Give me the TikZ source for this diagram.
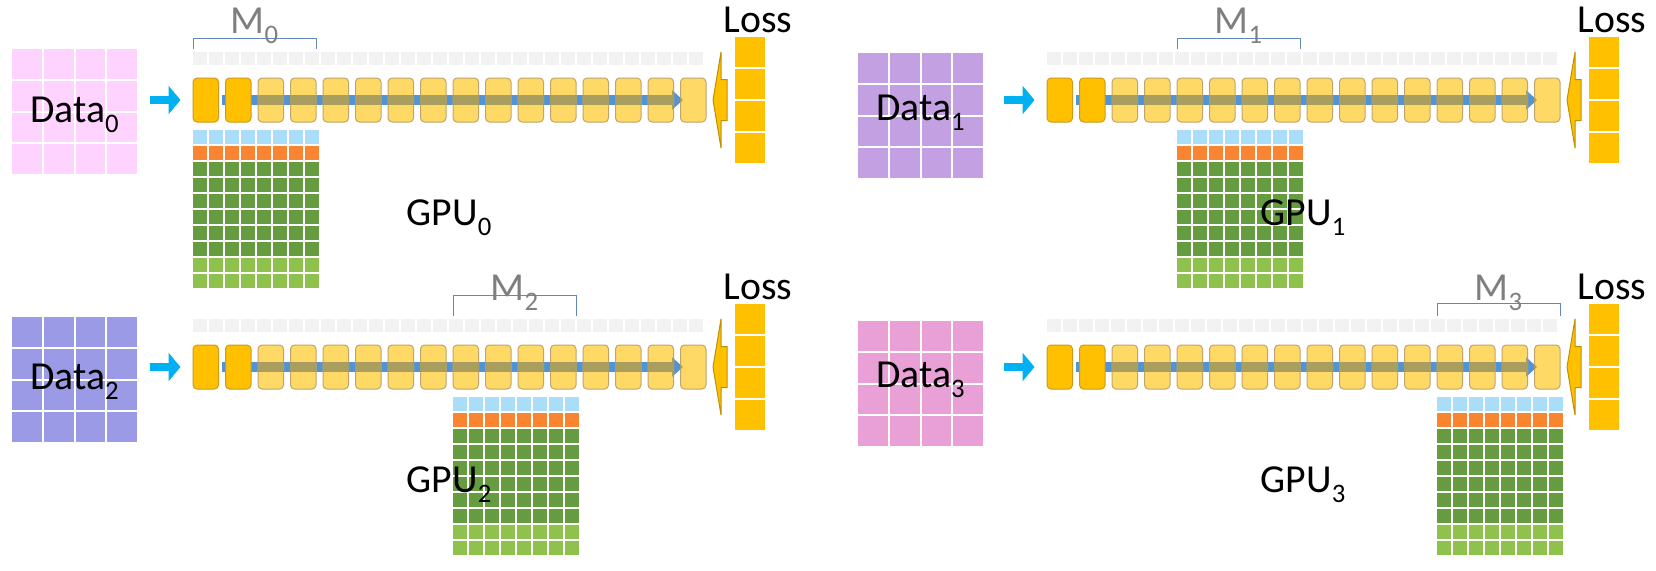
\documentclass[tikz,border=0pt]{standalone}
\usepackage{fontspec}
\setmainfont{Carlito}
\usetikzlibrary{arrows.meta, calc}
\definecolor{datapink}{RGB}{255,211,255}
\definecolor{datalilac}{RGB}{195,160,225}
\definecolor{dataperi}{RGB}{154,154,230}
\definecolor{datarose}{RGB}{232,160,214}
\definecolor{inblue}{RGB}{0,176,240}
\definecolor{flowblue}{RGB}{79,147,218}
\definecolor{flowolive}{RGB}{170,158,95}
\definecolor{stagegold}{RGB}{255,192,0}
\definecolor{stagegoldline}{RGB}{205,155,25}
\definecolor{stageyellow}{RGB}{255,217,102}
\definecolor{stageline}{RGB}{190,165,110}
\definecolor{slotgray}{RGB}{242,242,242}
\definecolor{bracketblue}{RGB}{100,135,185}
\definecolor{labelgray}{RGB}{127,127,127}
\definecolor{gpublue}{RGB}{170,221,250}
\definecolor{gpuorange}{RGB}{250,133,48}
\definecolor{gpudark}{RGB}{101,156,64}
\definecolor{gpulight}{RGB}{143,194,76}
\definecolor{lossgold}{RGB}{255,192,0}
\definecolor{lossline}{RGB}{191,143,0}
\newcommand\subidx[1]{\raisebox{-0.27em}{\fontsize{7.6}{9}\selectfont #1}}
\tikzset{
  lbl/.style={font=\fontsize{11.3}{13}\selectfont, inner sep=0pt},
  mlbl/.style={lbl, text=labelgray},
  stage/.style={rectangle, rounded corners=0.4mm, minimum width=2.55mm, minimum height=4.4mm,
                inner sep=0pt, line width=0.1mm, draw=stageline, fill=stageyellow},
  hotstage/.style={stage, draw=stagegoldline, fill=stagegold},
  inarrow/.style={-{Triangle[length=1.2mm, width=2.8mm]}, line width=0.8mm, inblue},
  flow/.style={-{Triangle[length=1.1mm, width=1.9mm]}, line width=1mm, flowblue},
  backarrow/.style={fill=lossgold, draw=lossline, line width=0.1mm, line join=miter},
  bracket/.style={bracketblue, line width=0.1mm},
}
\begin{document}
\begin{tikzpicture}[x=0.1mm, y=-0.1mm]
  \useasboundingbox[fill=white] (0,0) rectangle (1656,570);
  \def\P{32.5}
  \foreach \k/\ox/\oy/\gx/\gy/\dly/\bt/\dcol in {0/193/100/12/49/73/62/datapink,
      1/1047/100/858/53/67/62/datalilac, 2/193/367/12/317/72/72/dataperi,
      3/1047/367/858/321/66/64/datarose} {
    % Data grid
    \foreach \r in {0,...,3} \foreach \c in {0,...,3}
      \fill[\dcol] (\gx+\c*31.75, \gy+\r*31.75) rectangle ++(29.75,29.75);
    \node[lbl, anchor=base] (data\k) at (\gx+62.5, \gy+\dly) {Data\subidx{\k}};

    % Slots above the stages
    \foreach \i in {0,...,31}
      \fill[slotgray] (\ox+\i*16, \oy-48) rectangle ++(13.5,13);

    % Flow line under the stages
    \coordinate (f\k-a) at (\ox+29, \oy);
    \coordinate (f\k-b) at (\ox+490, \oy);
    \draw[flow] (f\k-a) -- (f\k-b);

    % Stages
    \foreach \i in {1,2}
      \node[hotstage] (s\k-\i) at (\ox+\i*\P-\P+12.75, \oy) {};
    \foreach \i in {3,...,16}
      \node[stage] (s\k-\i) at (\ox+\i*\P-\P+12.75, \oy) {};
    \begin{scope}
      \clip \foreach \i in {3,...,16} {(s\k-\i.south west) rectangle (s\k-\i.north east)};
      \draw[flow, flowolive] (f\k-a) -- (f\k-b);
    \end{scope}

    % Input arrow
    \draw[inarrow] ([xshift=-4.3mm]s\k-1.west) -- ([xshift=-1.2mm]s\k-1.west);

    % Model part M_k
    \pgfmathsetmacro\xa{\ox+4*\k*\P}
    \pgfmathsetmacro\xb{\ox+(4*\k+3)*\P+25.5}
    \draw[bracket] (\xa, \oy-51) -- (\xa, \oy-\bt) -- (\xb, \oy-\bt) -- (\xb, \oy-51);
    \node[mlbl, anchor=base] (m\k) at ({(\xa+\xb)/2}, \oy-67) {M\subidx{\k}};

    % GPU memory grid
    \foreach \r/\cl in {0/gpublue, 1/gpuorange, 2/gpudark, 3/gpudark, 4/gpudark,
        5/gpudark, 6/gpudark, 7/gpudark, 8/gpulight, 9/gpulight}
      \foreach \c in {0,...,7}
        \fill[\cl] (\xa+\c*16, \oy+30+\r*16) rectangle ++(14,14);
    \node[lbl, anchor=base west] (gpu\k) at (\ox+213, \oy+125) {GPU\subidx{\k}};

    % Loss
    \foreach \r in {0,...,3}
      \fill[lossgold] (\ox+542, \oy-63+\r*32) rectangle ++(30,30);
    \node[lbl, anchor=base west] (loss\k) at (\ox+530, \oy-68) {Loss};
    \draw[backarrow] (\ox+520, \oy) -- (\ox+528, \oy-48) -- (\ox+528, \oy-20.5)
      -- (\ox+534, \oy-20.5) -- (\ox+534, \oy+20.5) -- (\ox+528, \oy+20.5)
      -- (\ox+528, \oy+48) -- cycle;
  }
\end{tikzpicture}
\end{document}
